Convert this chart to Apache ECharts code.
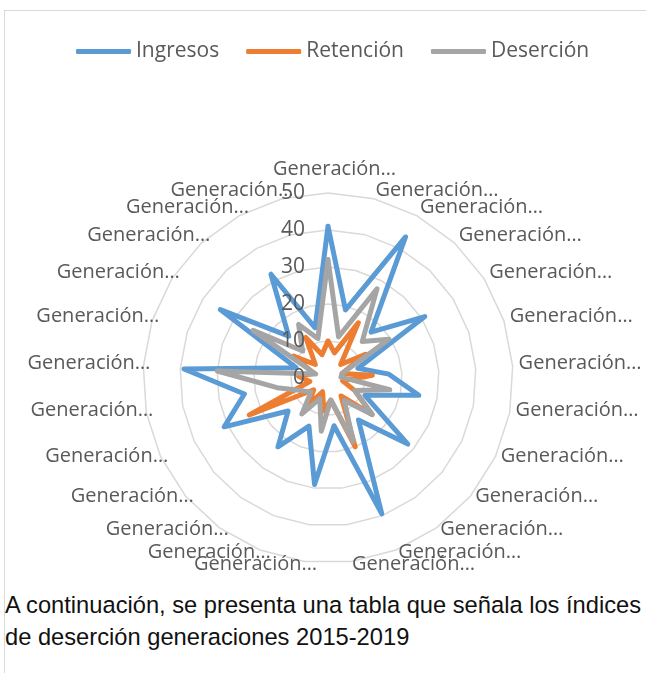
<!DOCTYPE html>
<html><head><meta charset="utf-8">
<script src="https://cdn.jsdelivr.net/npm/echarts@6/dist/echarts.min.js"></script>
<style>
html,body{margin:0;padding:0;background:#fff;width:646px;height:673px;overflow:hidden}
#frame{position:absolute;left:4px;top:10px;width:700px;height:720px;border-left:1.5px solid #d9d9d9;border-top:1.5px solid #d9d9d9}
#chart{position:absolute;left:0;top:0;width:646px;height:588px}
#para{position:absolute;left:5px;top:589px;font-family:'Liberation Sans',Arial,sans-serif;font-size:23.7px;line-height:32px;color:#111;white-space:nowrap}
</style></head>
<body>
<div id="frame"></div>
<div id="chart"></div>
<div id="para">A continuación, se presenta una tabla que señala los índices<br>de deserción generaciones 2015-2019</div>
<script>
// Indicators listed clockwise starting from the top
const categories = Array.from({length: 25}, () => 'Generación…');
const seriesNames = ['Ingresos', 'Retención', 'Deserción'];
const ingresos  = [41, 19, 43.5, 17, 31, 8.5, 16.5, 25, 11, 28, 14, 39.5, 13, 29, 14, 23, 14, 31, 23, 39, 9, 34.5, 15.5, 32, 14];
const retencion = [10, 7, 17, 5, 12, 4, 12, 4, 8, 15.5, 6, 20, 6, 9, 4, 9, 5, 23.5, 5, 8, 4, 11, 5, 12.5, 6.5];
const desercion = [32, 11.5, 27.5, 13.5, 19.5, 4, 3.5, 17, 8, 15.5, 7.5, 18.5, 6, 14.5, 6, 12, 6, 8, 14, 30, 3.5, 24, 10, 16.5, 11];
const ticks = [0, 10, 20, 30, 40, 50];

const N = categories.length;
// ECharts places indicators counter-clockwise; reorder so they run clockwise.
const order = Array.from({length: N}, (_, j) => (N - j) % N);
const FONT = "'Open Sans', sans-serif";
const TXT = '#595959';
const makeIndicators = (withLabel) => order.map((k, j) => {
  const ind = {name: categories[k], min: ticks[0], max: ticks[ticks.length - 1]};
  if (j === 0) {
    ind.nameGap = 8;
    if (withLabel) ind.axisLabel = {show: true, fontSize: 21, color: TXT, fontFamily: FONT, margin: 23};
  }
  return ind;
});
const reorder = arr => order.map(k => arr[k]);

const baseRadar = {
  center: [328, 378],
  radius: 185,
  startAngle: 90,
  shape: 'polygon',
  splitNumber: ticks.length - 1,
  nameGap: 6,
  axisLine: {show: false},
  axisTick: {show: false},
  axisLabel: {show: false},
  splitArea: {show: false}
};

const chart = echarts.init(document.getElementById('chart'), null, {renderer: 'canvas'});
chart.setOption({
  animation: false,
  color: ['#5b9bd5', '#ed7d31', '#a5a5a5'],
  legend: {
    top: 36, left: 71,
    itemWidth: 55, itemHeight: 5, itemGap: 27,
    icon: 'roundRect',
    textStyle: {fontSize: 21, color: TXT, fontFamily: FONT},
    data: seriesNames
  },
  radar: [
    Object.assign({}, baseRadar, {
      indicator: makeIndicators(false),
      axisName: {
        formatter: v => '{a|' + v + '}',
        rich: {a: {width: 110, align: 'left', fontSize: 20, color: TXT, fontFamily: FONT, padding: [0, 0, 6, 0]}}
      },
      splitLine: {lineStyle: {color: '#d9d9d9', width: 1.5}}
    }),
    Object.assign({}, baseRadar, {
      z: 5,
      indicator: makeIndicators(true),
      axisName: {show: false},
      splitLine: {show: false}
    })
  ],
  series: [{
    type: 'radar',
    radarIndex: 0,
    symbol: 'none',
    lineStyle: {width: 5, cap: 'round', join: 'round'},
    data: [
      {name: seriesNames[0], value: reorder(ingresos)},
      {name: seriesNames[1], value: reorder(retencion)},
      {name: seriesNames[2], value: reorder(desercion)}
    ]
  }]
});
</script>
</body></html>
